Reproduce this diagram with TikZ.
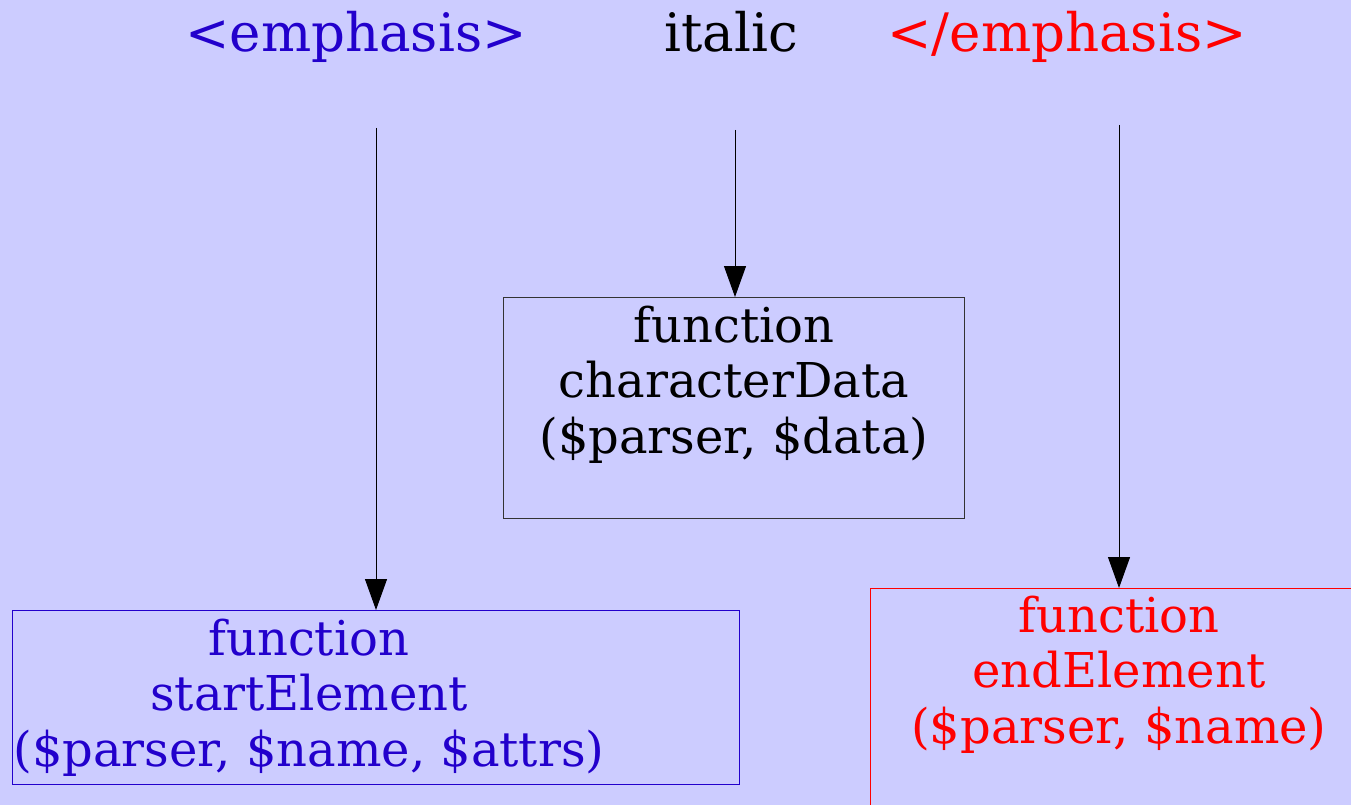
\documentclass[tikz,border=0pt]{standalone}
\usepackage{fontspec}
\setmainfont{DejaVu Serif}
\usetikzlibrary{arrows.meta}
\definecolor{bg}{RGB}{204,204,255}
\definecolor{tagblue}{RGB}{34,0,204}
\definecolor{tagred}{RGB}{255,0,0}
\begin{document}
\begin{tikzpicture}[x=1pt,y=-1pt,
  tag/.style={font=\fontsize{53}{60}\selectfont, inner sep=0, anchor=base},
  fbox/.style={draw, line width=1pt, inner sep=0, anchor=north west},
  ftext/.style={font=\fontsize{48}{55.5}\selectfont, align=center, inner sep=0, anchor=north},
  conn/.style={line width=1pt, -{Triangle[length=31pt,width=22pt]}}]
\fill[bg] (0,0) rectangle (1351,805);
\useasboundingbox (0,0) rectangle (1351,805);
% tags
\node[tag, text=tagblue] (open) at (356,52) {<emphasis>};
\node[tag, text=black] (ital) at (731,52) {italic};
\node[tag, text=tagred] (close) at (1067,52) {</emphasis>};
% boxes
\node[fbox, draw=tagblue, minimum width=727pt, minimum height=174pt] (se) at (12,610) {};
\node[fbox, draw=black!80, minimum width=461pt, minimum height=221pt] (cd) at (503,297) {};
\node[fbox, draw=tagred, minimum width=520pt, minimum height=260pt] (ee) at (870,588) {};
% box texts
\node[ftext, text=tagblue] (set) at (309,618.5) {function\\startElement\\(\$parser, \$name, \$attrs)};
\node[ftext, text=black] (cdt) at (734,305.5) {function\\characterData\\(\$parser, \$data)};
\node[ftext, text=tagred] (eet) at (1119,595.5) {function\\endElement\\(\$parser, \$name)};
% connectors
\coordinate (s1) at (376,128);
\coordinate (s2) at (735,130);
\coordinate (s3) at (1119,125);
\draw[conn] (s1) -- (s1 |- se.north);
\draw[conn] (s2) -- (s2 |- cd.north);
\draw[conn] (s3) -- (s3 |- ee.north);
\end{tikzpicture}
\end{document}
